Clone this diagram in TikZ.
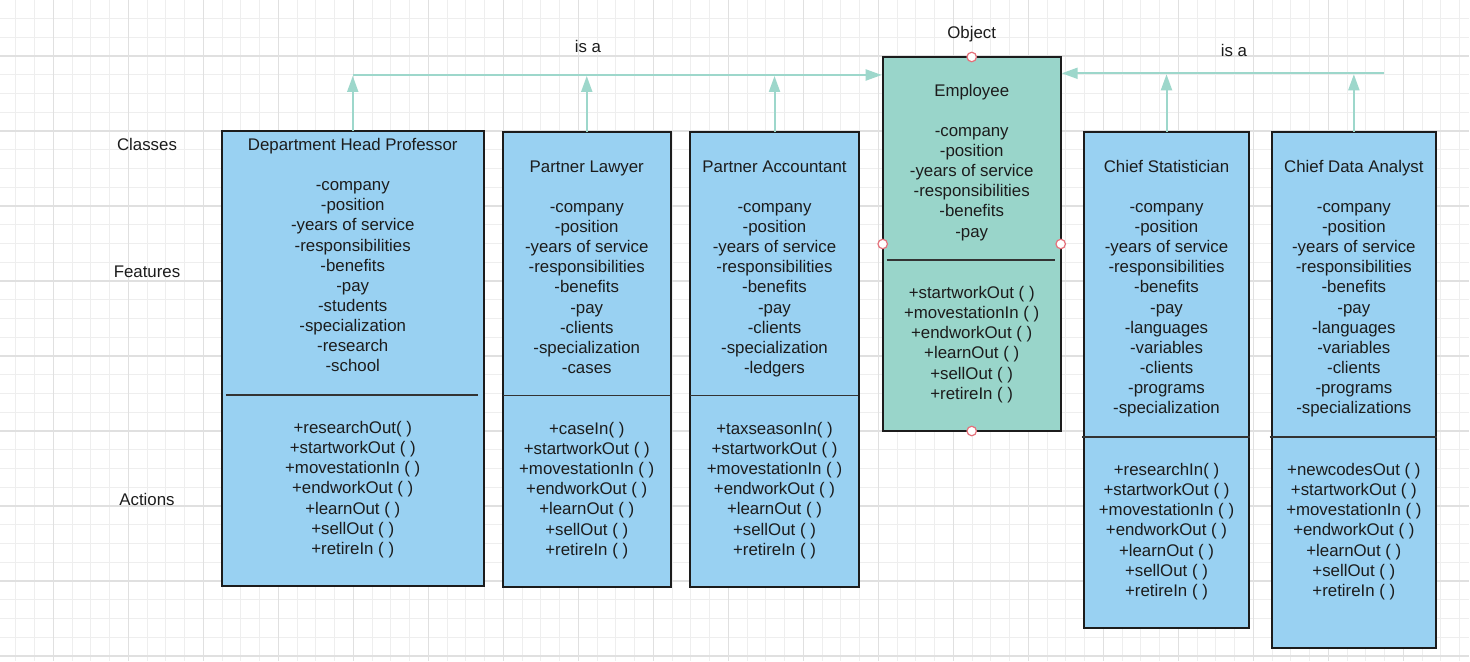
\documentclass[tikz,border=0pt]{standalone}
\usepackage{fontspec}
\setmainfont{Liberation Sans}
\usepackage{xcolor}
\usepackage{tikz}
\usetikzlibrary{arrows.meta}
\usetikzlibrary{calc}
\usetikzlibrary{positioning}

\definecolor{clsblue}{HTML}{99D1F2}
\definecolor{objteal}{HTML}{99D5CA}
\definecolor{isateal}{HTML}{9DD7CB}
\definecolor{gridminor}{HTML}{EEEEEE}
\definecolor{gridmajor}{HTML}{E0E0E0}
\definecolor{portred}{HTML}{E5707A}
\definecolor{ink}{HTML}{1C1C1C}

\begin{document}
\begin{tikzpicture}[x=1bp,y=-1bp,>={Triangle[length=16bp,width=11bp]},shorten >=1bp]
  \tikzstyle{cls}=[draw=ink, fill=clsblue, line width=2bp, rectangle, inner sep=0pt, outer sep=0pt]
  \tikzstyle{obj}=[cls, fill=objteal]
  \tikzstyle{txt}=[inner sep=0pt, align=center, text=ink, font=\fontsize{16.9}{20.2}\selectfont]
  \tikzstyle{lbl}=[txt, text height=11.8bp, text depth=3.5bp]
  \tikzstyle{isa}=[->, draw=isateal, line width=2bp]
  \tikzstyle{sep}=[draw=ink!90, line width=1.3bp]
  \tikzstyle{port}=[draw=portred, fill=white, circle, line width=1.2bp, inner sep=0pt, minimum size=9.5bp]

  % grid paper
  \useasboundingbox (0,0) rectangle (1470,662);
  \fill[white] (0,0) rectangle (1470,662);
  \foreach \i in {-2,...,75}
    \draw[gridminor, line width=1bp] ({53.3+18.75*\i},0) -- ({53.3+18.75*\i},662);
  \foreach \i in {-2,...,32}
    \draw[gridminor, line width=1bp] (0,{56+18.75*\i}) -- (1470,{56+18.75*\i});
  \foreach \i in {0,...,18}
    \draw[gridmajor, line width=1.1bp] ({53.3+75*\i},0) -- ({53.3+75*\i},662);
  \foreach \i in {0,...,8}
    \draw[gridmajor, line width=1.1bp] (0,{56+75*\i}) -- (1470,{56+75*\i});

  % classes
  \node[cls, minimum width=262.5bp, minimum height=454.7bp, anchor=north west] (dhp) at (221.5,131) {};
  \node[cls, minimum width=168.5bp, minimum height=454.7bp, below right=1.3bp and 18.5bp of dhp.north east] (law) {};
  \node[cls, minimum width=169bp, minimum height=454.7bp, below right=0bp and 19bp of law.north east] (acc) {};
  \node[obj, minimum width=178bp, minimum height=374bp, anchor=north west] (emp) at (882.7,57) {};
  \node[cls, minimum width=165bp, minimum height=495.7bp, below right=75bp and 23.3bp of emp.north east] (stat) {};
  \node[cls, minimum width=164.3bp, minimum height=515.7bp, below right=0bp and 22.7bp of stat.north east] (ana) {};

  % compartments
  \coordinate (dhpd) at ($(dhp.north)+(0,264)$);
  \coordinate (lawd) at ($(law.north)+(0,263.5)$);
  \coordinate (accd) at ($(acc.north)+(0,263.5)$);
  \coordinate (empd) at ($(emp.north)+(0,203)$);
  \coordinate (statd) at ($(stat.north)+(0,305)$);
  \coordinate (anad) at ($(ana.north)+(0,305)$);
  \draw[sep] ($(dhpd -| dhp.west)+(4.5,0)$) -- ($(dhpd -| dhp.east)+(-5,0)$);
  \draw[sep] (lawd -| law.west) -- (lawd -| law.east);
  \draw[sep] (accd -| acc.west) -- (accd -| acc.east);
  \draw[sep] ($(empd -| emp.west)+(4,0)$) -- ($(empd -| emp.east)+(-4.5,0)$);
  \draw[sep] ($(statd -| stat.west)+(-2,0)$) -- ($(statd -| stat.east)+(2,0)$);
  \draw[sep] ($(anad -| ana.west)+(-2,0)$) -- ($(anad -| ana.east)+(2,0)$);

  \node[txt, below=5.2bp of dhp.north] (dhpf) {\strut Department Head Professor\\ \\ -company\\ -position\\ -years of service\\ -responsibilities\\ -benefits\\ -pay\\ -students\\ -specialization\\ -research\\ -school};
  \node[txt, below=24.3bp of dhpd] (dhpm) {\strut +researchOut( )\\ +startworkOut ( )\\ +movestationIn ( )\\ +endworkOut ( )\\ +learnOut ( )\\ +sellOut ( )\\ +retireIn ( )};

  \node[txt, below=25.6bp of law.north] (lawf) {\strut Partner Lawyer\\ \\ -company\\ -position\\ -years of service\\ -responsibilities\\ -benefits\\ -pay\\ -clients\\ -specialization\\ -cases};
  \node[txt, below=24.3bp of lawd] (lawm) {\strut +caseIn( )\\ +startworkOut ( )\\ +movestationIn ( )\\ +endworkOut ( )\\ +learnOut ( )\\ +sellOut ( )\\ +retireIn ( )};

  \node[txt, below=25.6bp of acc.north] (accf) {\strut Partner Accountant\\ \\ -company\\ -position\\ -years of service\\ -responsibilities\\ -benefits\\ -pay\\ -clients\\ -specialization\\ -ledgers};
  \node[txt, below=24.3bp of accd] (accm) {\strut +taxseasonIn( )\\ +startworkOut ( )\\ +movestationIn ( )\\ +endworkOut ( )\\ +learnOut ( )\\ +sellOut ( )\\ +retireIn ( )};

  \node[txt, below=24.9bp of emp.north] (empf) {\strut Employee\\ \\ -company\\ -position\\ -years of service\\ -responsibilities\\ -benefits\\ -pay};
  \node[txt, below=24.3bp of empd] (empm) {\strut +startworkOut ( )\\ +movestationIn ( )\\ +endworkOut ( )\\ +learnOut ( )\\ +sellOut ( )\\ +retireIn ( )};

  \node[txt, below=25.9bp of stat.north] (statf) {\strut Chief Statistician\\ \\ -company\\ -position\\ -years of service\\ -responsibilities\\ -benefits\\ -pay\\ -languages\\ -variables\\ -clients\\ -programs\\ -specialization};
  \node[txt, below=24.3bp of statd] (statm) {\strut +researchIn( )\\ +startworkOut ( )\\ +movestationIn ( )\\ +endworkOut ( )\\ +learnOut ( )\\ +sellOut ( )\\ +retireIn ( )};

  \node[txt, below=25.9bp of ana.north] (anaf) {\strut Chief Data Analyst\\ \\ -company\\ -position\\ -years of service\\ -responsibilities\\ -benefits\\ -pay\\ -languages\\ -variables\\ -clients\\ -programs\\ -specializations};
  \node[txt, below=24.3bp of anad] (anam) {\strut +newcodesOut ( )\\ +startworkOut ( )\\ +movestationIn ( )\\ +endworkOut ( )\\ +learnOut ( )\\ +sellOut ( )\\ +retireIn ( )};

  % generalisation
  \coordinate (jl) at ($(dhp.north)+(0,-56)$);
  \coordinate (jr) at (1384,73.3);
  \path (dhp.north) edge[isa] (jl)
        (law.north) edge[isa] (law.north |- jl)
        (acc.north) edge[isa] (acc.north |- jl)
        (jl) edge[isa] (jl -| emp.west)
        (stat.north) edge[isa] (stat.north |- jr)
        (ana.north) edge[isa] (ana.north |- jr)
        (jr) edge[isa] (jr -| emp.east);

  \node[port] (empn) at (emp.north) {};
  \node[port] (emps) at (emp.south) {};
  \node[port] (empw) at (emp.west) {};
  \node[port] (empe) at (emp.east) {};

  % labels
  \node[lbl, above=15.2bp of emp.north] (object) {Object};
  \node[lbl] (isal) at (588,47.9) {is a};
  \node[lbl] (isar) at (1234,51.9) {is a};
  \node[lbl] (classes) at (147,146.7) {Classes};
  \node[lbl] (features) at (147,273.7) {Features};
  \node[lbl] (actions) at (147,501.7) {Actions};
\end{tikzpicture}
\end{document}
